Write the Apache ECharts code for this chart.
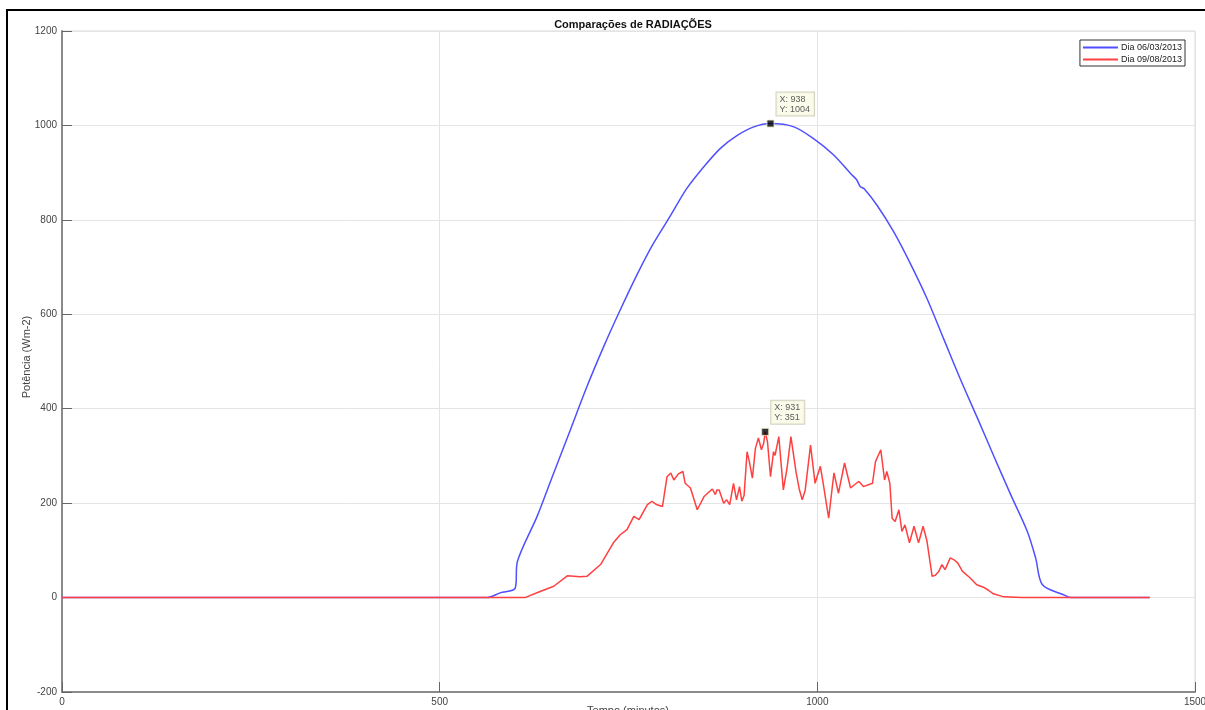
<!DOCTYPE html>
<html>
<head>
<meta charset="utf-8">
<script src="https://cdn.jsdelivr.net/npm/echarts@6/dist/echarts.min.js"></script>
<style>
html,body{margin:0;padding:0;background:#fff;overflow:hidden;}
#chart{width:1205px;height:710px;}
</style>
</head>
<body>
<div id="chart"></div>
<script>
// ---- data ----
const seriesNames = ['Dia 06/03/2013', 'Dia 09/08/2013'];

const blueMinutes = [0, 541, 563, 580, 600, 603, 629, 651, 673, 695, 717, 739, 761, 783, 806, 827, 850, 872, 894, 916, 938, 969, 995, 1022, 1044, 1052, 1057, 1062, 1079, 1101, 1123, 1145, 1167, 1189, 1212, 1233, 1256, 1278, 1289, 1298, 1326, 1335, 1440];
const blueValues  = [0, 0, 0, 10, 20, 77, 172, 264, 355, 447, 531, 609, 683, 750, 810, 866, 913, 952, 979, 997, 1004, 997, 972, 937, 898, 885, 870, 866, 831, 775, 708, 634, 549, 464, 380, 302, 218, 140, 84, 27, 6, 0, 0];

const redMinutes = [0, 600, 613, 633, 651, 669, 686, 695, 713, 730, 739, 748, 757, 764, 775, 781, 787, 795, 801, 806, 810, 816, 822, 825, 832, 841, 850, 861, 865, 867, 870, 876, 880, 884, 889, 893, 897, 900, 903, 907, 910, 914, 918, 922, 926, 929, 931, 934, 938, 942, 944, 949, 955, 960, 965, 972, 976, 980, 984, 991, 997, 1004, 1008, 1015, 1022, 1028, 1036, 1044, 1050, 1055, 1061, 1073, 1077, 1084, 1089, 1092, 1096, 1099, 1103, 1108, 1112, 1116, 1122, 1128, 1134, 1140, 1145, 1152, 1156, 1161, 1165, 1169, 1176, 1181, 1186, 1192, 1202, 1211, 1220, 1227, 1233, 1247, 1270, 1440];
const redValues  = [0, 0, 0, 13, 24, 46, 44, 45, 70, 116, 133, 144, 172, 165, 197, 204, 197, 193, 256, 264, 249, 262, 267, 242, 232, 186, 214, 230, 218, 228, 228, 200, 207, 197, 242, 207, 235, 204, 216, 309, 288, 253, 316, 338, 313, 327, 351, 330, 256, 309, 301, 341, 228, 275, 341, 264, 230, 207, 228, 323, 242, 278, 239, 168, 264, 221, 285, 232, 240, 246, 235, 242, 288, 313, 249, 267, 242, 168, 161, 186, 140, 154, 116, 151, 116, 151, 121, 45, 47, 56, 70, 59, 84, 80, 73, 56, 42, 27, 22, 15, 8, 1.5, 0, 0];

const tipPoints = [[938, 1004], [931, 351]];

const xTicks = { min: 0, max: 1500, interval: 500 };
const yTicks = { min: -200, max: 1200, interval: 200 };

// ---- build ----
const zip = (xs, ys) => xs.map((x, i) => [x, ys[i]]);
const FONT = 'Liberation Sans, Arial, Helvetica, sans-serif';
const chart = echarts.init(document.getElementById('chart'), null, {renderer: 'canvas'});

const axisCommon = {
  type: 'value',
  axisLine: {show: true, onZero: false, lineStyle: {color: '#8a8a8a', width: 2}},
  axisTick: {show: true, inside: true, length: 10, lineStyle: {color: '#666', width: 1}},
  axisLabel: {color: '#444', fontSize: 10, fontFamily: FONT, margin: 5, formatter: v => String(v)},
  splitLine: {show: true, lineStyle: {color: '#e4e4e4', width: 1}}
};

chart.setOption({
  animation: false,
  backgroundColor: '#ffffff',
  title: {
    text: 'Comparações de RADIAÇÕES',
    left: 628, top: 14, textAlign: 'center',
    textStyle: {fontSize: 11, fontWeight: 'bold', color: '#111', fontFamily: FONT}
  },
  legend: {
    data: seriesNames.map(n => ({name: n, icon: 'rect'})),
    orient: 'vertical',
    right: 20, top: 40,
    padding: [3, 3, 2, 3],
    itemGap: 3,
    itemWidth: 35, itemHeight: 2,
    borderColor: '#333', borderWidth: 1,
    backgroundColor: '#fff',
    textStyle: {fontSize: 9, color: '#222', fontFamily: FONT, padding: [0, 0, 0, -2]}
  },
  grid: {
    left: 62, right: 10, top: 31, bottom: 18,
    outerBoundsMode: 'none', containLabel: false,
    show: true, borderColor: '#d8d8d8', borderWidth: 1, backgroundColor: 'transparent'
  },
  xAxis: Object.assign({}, axisCommon, {
    min: xTicks.min, max: xTicks.max, interval: xTicks.interval
  }),
  yAxis: Object.assign({}, axisCommon, {
    min: yTicks.min, max: yTicks.max, interval: yTicks.interval
  }),
  graphic: [
    {type: 'line', shape: {x1: 6, y1: 10, x2: 1205, y2: 10}, style: {stroke: '#000', lineWidth: 2}},
    {type: 'line', shape: {x1: 7, y1: 10, x2: 7, y2: 710}, style: {stroke: '#000', lineWidth: 2}},
    {type: 'text', x: 628, y: 705,
      style: {text: 'Tempo (minutos)', fill: '#444', fontSize: 11, fontFamily: FONT, align: 'center', verticalAlign: 'top'}},
    {type: 'text', rotation: Math.PI / 2, x: 21, y: 357,
      style: {text: 'Potência (Wm-2)', fill: '#444', fontSize: 11, fontFamily: FONT,
              align: 'center', verticalAlign: 'top'}}
  ],
  series: [
    {
      name: seriesNames[0], type: 'line', data: zip(blueMinutes, blueValues),
      symbol: 'none', showSymbol: false, smooth: 0.3,
      lineStyle: {color: '#5050ff', width: 1.5}, itemStyle: {color: '#5050ff'}, z: 2
    },
    {
      name: seriesNames[1], type: 'line', data: zip(redMinutes, redValues),
      symbol: 'none', showSymbol: false,
      lineStyle: {color: '#ff4040', width: 1.5}, itemStyle: {color: '#ff4040'}, z: 3
    },
    {
      name: 'datatips', type: 'scatter', data: tipPoints,
      symbol: 'rect', symbolSize: 7, z: 5,
      itemStyle: {color: '#000', borderColor: '#e8e8c8', borderWidth: 1},
      label: {
        show: true, position: [10, -27],
        formatter: p => 'X: ' + p.value[0] + '\nY: ' + p.value[1],
        fontSize: 9, lineHeight: 10, color: '#333', fontFamily: FONT,
        backgroundColor: '#fafae6', borderColor: '#c8c8b0', borderWidth: 1,
        padding: [2, 4, 1, 3]
      }
    }
  ]
});
</script>
</body>
</html>
